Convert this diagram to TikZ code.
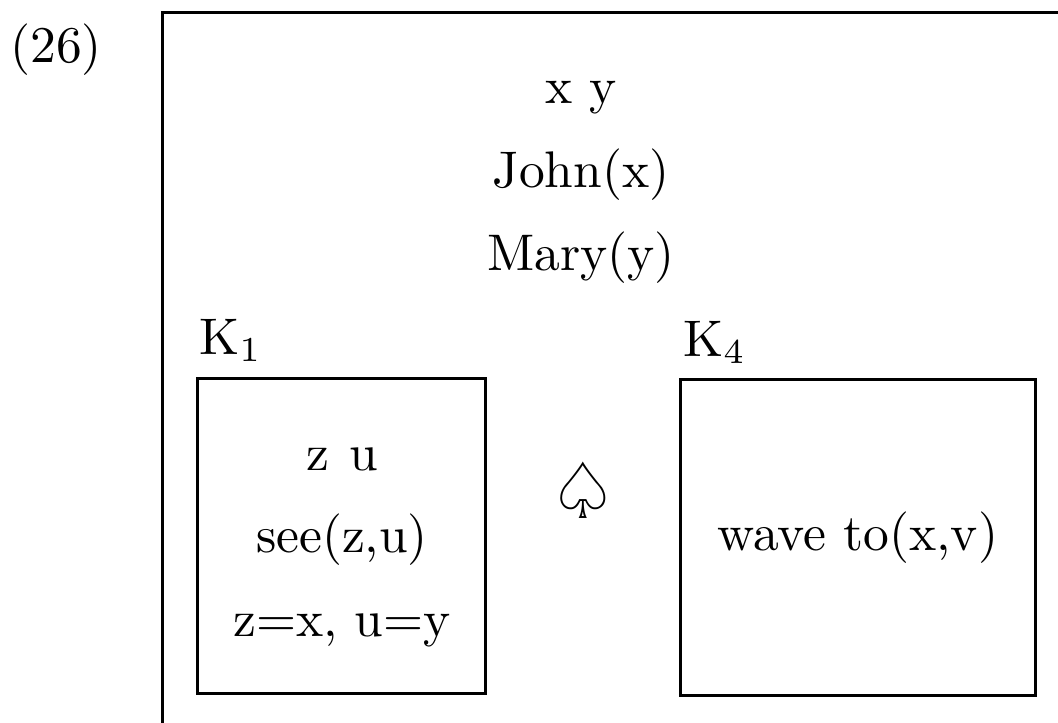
\documentclass[tikz,border=0pt]{standalone}
\usepackage{fontspec}
\newfontfamily\dejavu{DejaVu Sans}
\begin{document}
\begin{tikzpicture}[x=0.2pt,y=-0.2pt,line width=0.6pt,
  txt/.style={anchor=base,inner sep=0pt,font=\fontsize{10.3}{12}\selectfont},
  lbl/.style={anchor=base west,inner sep=0pt,font=\fontsize{10.3}{12}\selectfont}]
\useasboundingbox (0,0) rectangle (1058,723);
\clip (0,0) rectangle (1058,723);
% outer box (continues beyond the picture)
\draw (1100,12) -- (163,12) -- (163,760);
% sub-boxes
\draw (198,378) rectangle (486,693);
\draw (681,379) rectangle (1036,695);
% texts
\node[txt] (num) at (56,62) {(26)};
\node[txt] (xy) at (581,103) {x y};
\node[txt] (john) at (581,187) {John(x)};
\node[txt] (mary) at (581,270) {Mary(y)};
\node[lbl] (k1) at (198,354) {K$_1$};
\node[lbl] (k4) at (682,356) {K$_4$};
\node[txt] (zu) at (342,470) {z\hspace{4pt}u};
\node[txt] (see) at (342,552) {see(z,u)};
\node[txt] (eq) at (342,636) {z=x, u=y};
\node[txt] (wave) at (858,550) {wave to(x,v)};
\node[inner sep=0pt,font=\dejavu\fontsize{15.5}{18}\selectfont] (spade) at (583,490) {♤};
\end{tikzpicture}
\end{document}
